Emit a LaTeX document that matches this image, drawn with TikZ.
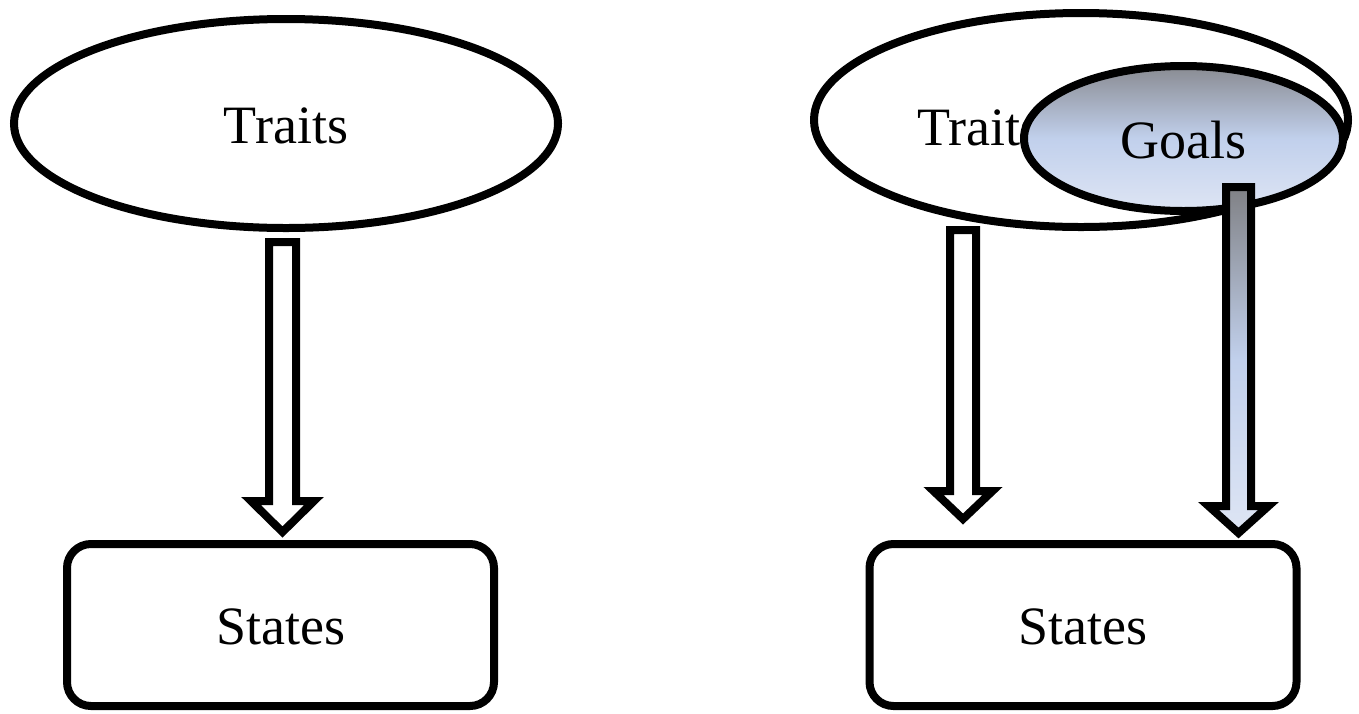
\documentclass[tikz,border=0pt]{standalone}
\usepackage{fontspec}
\setmainfont{Liberation Serif}
\usetikzlibrary{shapes.geometric,calc}
\definecolor{gtop}{RGB}{137,139,146}
\definecolor{gmid}{RGB}{193,208,236}
\definecolor{gbot}{RGB}{222,229,244}
\definecolor{atop}{RGB}{128,129,133}
\tikzset{
  lw/.style={line width=8pt},
  txt/.style={font=\fontsize{54}{60}\selectfont, text height=40pt},
  ell/.style={ellipse, draw, lw, fill=white, inner sep=0pt, txt},
  box/.style={rectangle, draw, lw, rounded corners=24pt, fill=white,
    minimum width=427pt, minimum height=162pt, txt},
  lbl/.style={inner sep=0pt, font=\fontsize{54}{60}\selectfont},
  hollow/.style={draw, lw, fill=white, line join=miter},
  shadedarrow/.style={draw, lw, line join=miter, top color=atop, bottom color=gbot, middle color=gmid}
}
\begin{document}
\begin{tikzpicture}[x=1pt,y=-1pt]
\useasboundingbox (0,0) rectangle (1359,713);
% left
\node[ell, minimum width=544pt, minimum height=209pt] (traitsL) at (286,123.5) {Traits};
\node[box] (statesL) at (280.5,625) {States};
\coordinate (aLs) at (282.5,242);
\coordinate (aLe) at (282.5,532);
\draw[hollow] ($(aLs)+(-13.5,0)$) -- ($(aLs)+(13.5,0)$) -- (296,501) -- (314,501) -- (aLe) -- (251,501) -- (269,501) -- cycle;
% right
\node[ell, minimum width=534pt, minimum height=214pt] (traitsR) at (1081,120) {};
\node[lbl, anchor=base] (traitsRtext) at (979.5,145) {Traits};
\node[box] (statesR) at (1083,625) {States};
\coordinate (aRs) at (963,230);
\coordinate (aRe) at (963,519);
\draw[hollow] ($(aRs)+(-13,0)$) -- ($(aRs)+(13,0)$) -- (976,491) -- (992.5,491) -- (aRe) -- (933.5,491) -- (950,491) -- cycle;
\node[ellipse, draw, lw, inner sep=0pt, minimum width=319pt, minimum height=145pt,
  top color=gtop, bottom color=gbot, middle color=gmid, txt] (goals) at (1183.5,138.5) {Goals};
\coordinate (aGs) at (1238.5,187);
\coordinate (aGe) at (1238.5,533);
\path[shadedarrow] ($(aGs)+(-12.5,0)$) -- ($(aGs)+(12.5,0)$) -- (1251,506) -- (1268.5,506) -- (aGe) -- (1208.5,506) -- (1226,506) -- cycle;
\end{tikzpicture}
\end{document}
